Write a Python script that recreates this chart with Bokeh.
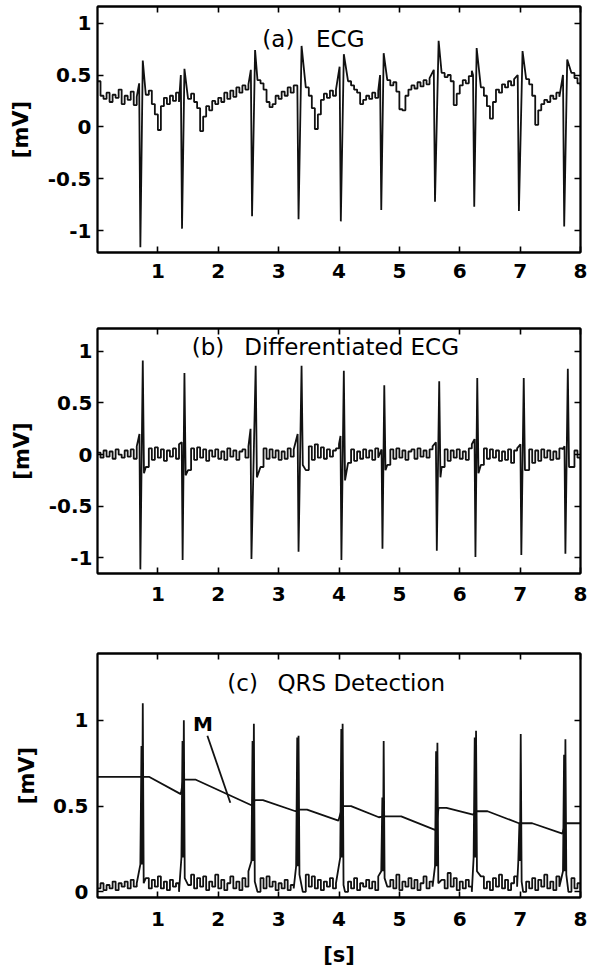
import numpy as np
from bokeh.plotting import figure
from bokeh.layouts import column
from bokeh.models import FixedTicker, CustomJSTickFormatter, LinearAxis, Range1d
from bokeh.embed import file_html
from bokeh.resources import INLINE
from bokeh.core.properties import value

# ---------------- data ----------------
STEP = 0.05  # seconds between baseline samples
X_TICKS = [1, 2, 3, 4, 5, 6, 7, 8]

# (a) ECG baseline, one value every 0.05 s from 0 to 8 s
ecg_base = [
    0.44, 0.30, 0.27, 0.33, 0.24, 0.31, 0.28, 0.36, 0.22, 0.30,
    0.26, 0.34, 0.21, 0.29, 0.35, 0.30, 0.31, 0.35, 0.22, 0.12,
    -0.03, 0.20, 0.28, 0.22, 0.30, 0.25, 0.33, 0.24, 0.50, 0.30,
    0.27, 0.32, 0.24, 0.18, -0.04, 0.10, 0.20, 0.16, 0.25, 0.22,
    0.28, 0.24, 0.33, 0.27, 0.35, 0.29, 0.38, 0.33, 0.40, 0.36,
    0.41, 0.38, 0.40, 0.45, 0.42, 0.36, 0.24, 0.19, 0.22, 0.30,
    0.27, 0.34, 0.30, 0.38, 0.33, 0.40, 0.36, 0.40, 0.40, 0.38,
    0.30, 0.18, -0.02, 0.12, 0.26, 0.32, 0.28, 0.35, 0.30, 0.36,
    0.33, 0.45, 0.45, 0.44, 0.40, 0.36, 0.33, 0.22, 0.26, 0.30,
    0.27, 0.33, 0.28, 0.35, 0.30, 0.40, 0.45, 0.40, 0.43, 0.34,
    0.17, 0.16, 0.30, 0.36, 0.40, 0.37, 0.43, 0.39, 0.45, 0.41,
    0.47, 0.44, 0.50, 0.50, 0.52, 0.48, 0.50, 0.44, 0.21, 0.32,
    0.40, 0.45, 0.42, 0.49, 0.54, 0.50, 0.42, 0.38, 0.30, 0.20,
    0.08, 0.24, 0.36, 0.33, 0.41, 0.38, 0.44, 0.40, 0.46, 0.48,
    0.50, 0.50, 0.46, 0.41, 0.30, 0.02, 0.16, 0.22, 0.26, 0.24,
    0.30, 0.27, 0.33, 0.29, 0.35, 0.50, 0.55, 0.52, 0.47, 0.42,
    0.40,
]
ecg_t_min = [0.71, 1.40, 2.56, 3.33, 4.03, 4.70, 5.59, 6.24, 6.98, 7.73]
ecg_min = [-1.16, -0.98, -0.86, -0.89, -0.91, -0.80, -0.72, -0.77, -0.81, -0.96]
ecg_t_max = [0.75, 1.44, 2.61, 3.38, 4.08, 4.74, 5.65, 6.28, 7.04, 7.78]
ecg_max = [0.64, 0.56, 0.74, 0.78, 0.70, 0.71, 0.83, 0.76, 0.73, 0.65]
ecg_pre = [0.42, 0.50, 0.55, 0.40, 0.58, 0.50, 0.55, 0.50, 0.50, 0.50]

# (b) differentiated ECG
dif_base = [
    0.02, -0.03, 0.04, -0.02, 0.03, -0.04, 0.05, 0.00, -0.03, 0.04,
    -0.02, 0.05, -0.04, 0.08, 0.00, 0.00, -0.12, 0.06, -0.05, 0.07,
    -0.03, 0.05, -0.06, 0.04, -0.02, 0.06, -0.04, 0.10, 0.00, 0.00,
    -0.15, 0.06, -0.05, 0.07, -0.03, 0.05, -0.06, 0.04, -0.02, 0.05,
    -0.04, 0.03, -0.05, 0.06, -0.02, 0.04, -0.05, 0.03, 0.05, -0.03,
    0.08, 0.00, 0.00, 0.00, -0.12, 0.06, -0.04, 0.05, -0.03, 0.04,
    -0.05, 0.03, -0.04, 0.06, -0.02, 0.05, 0.12, 0.00, 0.00, -0.15,
    0.08, -0.05, 0.10, -0.03, 0.07, -0.04, 0.05, -0.02, 0.04, 0.06,
    0.10, 0.00, 0.00, -0.08, 0.05, -0.06, 0.03, -0.04, 0.05, -0.03,
    0.04, -0.05, 0.06, -0.03, 0.00, 0.00, -0.10, 0.05, -0.04, 0.06,
    -0.03, 0.04, -0.05, 0.03, 0.05, -0.04, 0.06, -0.02, 0.04, -0.03,
    0.05, 0.08, 0.00, 0.00, -0.12, 0.05, -0.06, 0.04, -0.03, 0.05,
    -0.04, 0.03, -0.05, 0.06, 0.10, 0.00, 0.00, -0.10, 0.06, -0.04,
    0.05, -0.03, 0.04, -0.06, 0.03, -0.05, 0.05, -0.08, 0.04, 0.06,
    0.00, 0.00, -0.15, 0.05, -0.08, 0.04, -0.06, 0.05, -0.03, 0.04,
    -0.05, 0.03, -0.04, 0.06, 0.05, 0.00, 0.00, -0.12, 0.04, -0.03,
    -0.05,
]
dif_t_min = [0.71, 1.41, 2.55, 3.33, 4.04, 4.72, 5.62, 6.26, 7.02, 7.75]
dif_min = [-1.11, -1.02, -1.01, -0.94, -1.02, -0.91, -0.93, -0.99, -0.97, -0.96]
dif_t_max = [0.75, 1.44, 2.62, 3.38, 4.08, 4.75, 5.66, 6.29, 7.06, 7.79]
dif_max = [0.91, 0.79, 0.86, 0.86, 0.81, 0.67, 0.71, 0.74, 0.74, 0.83]
dif_pre = [0.20, 0.12, 0.25, 0.20, 0.18, 0.05, 0.12, 0.15, 0.10, 0.08]
dif_post = [-0.18, -0.20, -0.22, -0.10, -0.25, -0.15, -0.22, -0.18, -0.15, -0.12]

# (c) QRS detection signal
qrs_base = [
    0.02, 0.05, 0.01, 0.04, 0.02, 0.06, 0.01, 0.05, 0.03, 0.06,
    0.02, 0.07, 0.03, 0.05, 0.00, 0.00, 0.08, 0.02, 0.07, 0.03,
    0.09, 0.02, 0.06, 0.01, 0.07, 0.03, 0.05, 0.00, 0.00, 0.00,
    0.04, 0.10, 0.02, 0.08, 0.03, 0.09, 0.01, 0.06, 0.03, 0.10,
    0.02, 0.07, 0.01, 0.05, 0.09, 0.02, 0.06, 0.01, 0.08, 0.03,
    0.12, 0.00, 0.00, 0.00, 0.08, 0.02, 0.09, 0.03, 0.06, 0.01,
    0.05, 0.02, 0.07, 0.01, 0.04, 0.02, 0.00, 0.00, 0.00, 0.10,
    0.03, 0.09, 0.02, 0.07, 0.01, 0.06, 0.03, 0.08, 0.02, 0.05,
    0.00, 0.00, 0.00, 0.06, 0.02, 0.08, 0.01, 0.05, 0.03, 0.07,
    0.02, 0.06, 0.01, 0.09, 0.00, 0.00, 0.03, 0.07, 0.02, 0.10,
    0.01, 0.06, 0.03, 0.08, 0.02, 0.07, 0.01, 0.05, 0.09, 0.02,
    0.06, 0.03, 0.00, 0.00, 0.07, 0.02, 0.11, 0.03, 0.08, 0.01,
    0.06, 0.02, 0.07, 0.03, 0.00, 0.00, 0.00, 0.09, 0.02, 0.06,
    0.01, 0.08, 0.03, 0.10, 0.02, 0.07, 0.01, 0.05, 0.09, 0.03,
    0.00, 0.00, 0.06, 0.02, 0.08, 0.01, 0.07, 0.03, 0.10, 0.02,
    0.06, 0.01, 0.09, 0.03, 0.07, 0.00, 0.00, 0.08, 0.02, 0.05,
    0.01,
]
qrs_t = [0.75, 1.43, 2.59, 3.33, 4.06, 4.74, 5.63, 6.27, 7.01, 7.75]
qrs_peak = [1.10, 1.00, 0.98, 0.91, 0.98, 0.88, 0.87, 0.94, 0.92, 0.89]
qrs_shoulder = [0.85, 0.88, 0.88, 0.90, 0.95, 0.55, 0.82, 0.90, 0.40, 0.80]
qrs_foot = [0.16, 0.20, 0.18, 0.15, 0.20, 0.12, 0.15, 0.20, 0.18, 0.12]
qrs_tail = [0.05, 0.08, 0.06, 0.10, 0.04, 0.08, 0.05, 0.12, 0.06, 0.10]

# threshold M
thr_t = [0.00, 0.86, 1.38, 1.42, 1.62, 2.55, 2.61, 2.74, 3.28, 3.33, 3.47, 3.99,
         4.06, 4.20, 4.66, 4.74, 5.03, 5.60, 5.65, 5.78, 6.22, 6.27, 6.46, 6.98,
         7.01, 7.20, 7.70, 7.75, 8.00]
thr_v = [0.67, 0.67, 0.57, 0.655, 0.655, 0.505, 0.535, 0.535, 0.47, 0.48, 0.48, 0.415,
         0.50, 0.50, 0.435, 0.44, 0.44, 0.36, 0.49, 0.49, 0.45, 0.47, 0.47, 0.40,
         0.40, 0.40, 0.34, 0.40, 0.40]
m_label_t, m_label_v = [1.58], [0.98]
m_arrow_t = [1.82, 2.20]
m_arrow_v = [0.91, 0.52]

# panel titles: tag and name, placed as in the picture
title_tag = ["(a)", "(b)", "(c)"]
title_tag_t = [2.73, 1.56, 2.15]
title_name = ["ECG", "Differentiated ECG", "QRS Detection"]
title_name_t = [3.62, 2.43, 2.98]
title_v = [0.85, 1.04, 1.22]

# ---------------- helpers ----------------
def merge(base, segments, lo, hi):
    """Baseline samples drawn as a sample-and-hold staircase, complexes as straight strokes."""
    t = np.arange(len(base)) * STEP
    pts = []
    for tb, vb in zip(t, base):
        if any(a - lo < tb < b + hi for (a, b, _) in segments):
            continue
        pts.append((float(tb), float(vb), True))
    for (_, _, seg) in segments:
        pts.extend((st, sv, False) for st, sv in seg)
    pts.sort(key=lambda p: p[0])
    xs, ys = [pts[0][0]], [pts[0][1]]
    for (t0, v0, b0), (t1, v1, b1) in zip(pts, pts[1:]):
        if b0 and b1:
            xs.append(t1)
            ys.append(v0)
        xs.append(t1)
        ys.append(v1)
    return xs, ys


ecg_segs = []
for tm, vm, tx, vx, pr in zip(ecg_t_min, ecg_min, ecg_t_max, ecg_max, ecg_pre):
    ecg_segs.append((tm, tx, [(tm - 0.02, pr), (tm, vm), (tx, vx)]))
ecg_x, ecg_y = merge(ecg_base, ecg_segs, 0.04, 0.03)

dif_segs = []
for tm, vm, tx, vx, pr, po in zip(dif_t_min, dif_min, dif_t_max, dif_max, dif_pre, dif_post):
    dif_segs.append((tm, tx, [(tm - 0.015, pr), (tm, vm), (tx, vx), (tx + 0.02, po)]))
dif_x, dif_y = merge(dif_base, dif_segs, 0.04, 0.04)

qrs_segs = []
for tp, pk, sh, ft, tl in zip(qrs_t, qrs_peak, qrs_shoulder, qrs_foot, qrs_tail):
    qrs_segs.append((tp, tp, [(tp - 0.04, ft), (tp - 0.022, sh), (tp - 0.012, ft),
                              (tp, pk), (tp + 0.015, tl)]))
qrs_x, qrs_y = merge(qrs_base, qrs_segs, 0.06, 0.04)

FONT = "DejaVu Sans"
FMT = "return String(tick);"
BLANK = "return '';"
INK = "#111111"


def panel(height, b_top, b_bottom, b_left, b_right, ylim, yticks,
          lab_x, lab_y_stand, lab_std_y, xlabel=None, xlab_std=10):
    p = figure(width=591, height=height, x_range=Range1d(0, 8), y_range=Range1d(*ylim),
               output_backend="svg", toolbar_location=None,
               min_border_top=b_top, min_border_bottom=b_bottom,
               min_border_left=b_left, min_border_right=b_right)
    p.xgrid.visible = False
    p.ygrid.visible = False
    p.outline_line_color = "black"
    p.outline_line_width = 1.8
    p.background_fill_color = "white"
    p.border_fill_color = "white"
    xt = FixedTicker(ticks=X_TICKS, minor_ticks=[])
    yt = FixedTicker(ticks=yticks, minor_ticks=[])
    for ax, tk in ((p.xaxis[0], xt), (p.yaxis[0], yt)):
        ax.ticker = tk
        ax.formatter = CustomJSTickFormatter(code=FMT)
        ax.major_tick_in = 6
        ax.major_tick_out = 0
        ax.minor_tick_line_color = None
        ax.major_tick_line_width = 1.6
        ax.axis_line_width = 1.8
        ax.major_label_text_font = FONT
        ax.major_label_text_font_style = "bold"
        ax.major_label_text_font_size = "20px"
        ax.major_label_text_color = "black"
        ax.axis_label_text_font = FONT
        ax.axis_label_text_font_style = "bold"
        ax.axis_label_text_font_size = "21px"
        ax.axis_label_text_color = "black"
    p.xaxis[0].major_label_standoff = lab_x
    p.yaxis[0].major_label_standoff = lab_y_stand
    p.yaxis[0].axis_label = "[mV]"
    p.yaxis[0].axis_label_standoff = lab_std_y
    if xlabel:
        p.xaxis[0].axis_label = xlabel
        p.xaxis[0].axis_label_standoff = xlab_std
    for loc, tk in (("above", xt), ("right", yt)):
        ax = LinearAxis(ticker=tk, formatter=CustomJSTickFormatter(code=BLANK),
                        major_tick_in=6, major_tick_out=0, major_label_standoff=0,
                        minor_tick_line_color=None, major_tick_line_width=1.6,
                        axis_line_width=1.8)
        p.add_layout(ax, loc)
    return p


pa = panel(300, 6, 48, 97, 8, (-1.21, 1.16), [-1, -0.5, 0, 0.5, 1], 11, 6, 12)
pa.line(ecg_x, ecg_y, line_color=INK, line_width=1.8)

pb = panel(320, 28, 47, 94, 9, (-1.15, 1.22), [-1, -0.5, 0, 0.5, 1], 13, 5, 12)
pb.line(dif_x, dif_y, line_color=INK, line_width=1.8)

pc = panel(350, 33, 73, 90, 11, (-0.033, 1.39), [0, 0.5, 1], 14, 9, 11, xlabel="[s]", xlab_std=14)
pc.line(qrs_x, qrs_y, line_color=INK, line_width=1.8)
pc.line(thr_t, thr_v, line_color=INK, line_width=1.8)
pc.line(m_arrow_t, m_arrow_v, line_color=INK, line_width=1.8)
pc.text(x=m_label_t, y=m_label_v, text=["M"], text_font=value(FONT),
        text_font_style="bold", text_font_size="20px", text_align="left",
        text_baseline="middle", text_color="black")

for p, tg, tgt, nm, nmt, ty in zip((pa, pb, pc), title_tag, title_tag_t,
                                   title_name, title_name_t, title_v):
    p.text(x=[tgt, nmt], y=[ty, ty], text=[tg, nm], text_font=value(FONT),
           text_font_size="23px", text_align="left", text_baseline="middle",
           text_color="black")

layout = column(pa, pb, pc, spacing=0)
open("out.html", "w").write(file_html(layout, INLINE))
